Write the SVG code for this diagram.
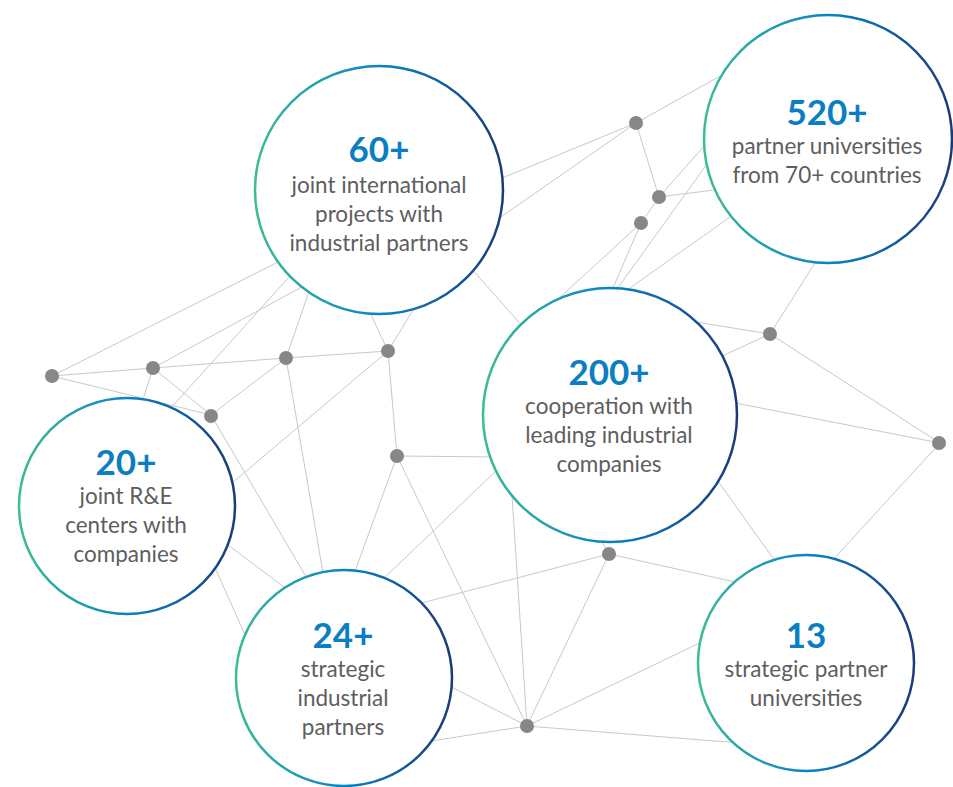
<svg xmlns="http://www.w3.org/2000/svg" width="953" height="787" viewBox="0 0 953 787">
<defs>
<linearGradient id="ring" x1="0" y1="0" x2="1" y2="0">
<stop offset="0" stop-color="#3dbc95"/>
<stop offset="0.5" stop-color="#0784c6"/>
<stop offset="1" stop-color="#1c3a78"/>
</linearGradient>
<style>
.ln{stroke:#c8c8c8;stroke-width:1;fill:none}
.dot{fill:#878787}
.ring{fill:#fff;stroke:url(#ring);stroke-width:2.5}
.num{font-family:Lato,"Open Sans","Liberation Sans",sans-serif;font-weight:700;font-size:35px;fill:#0b7ec3;text-anchor:middle}
.txt{font-family:Lato,"Open Sans","Liberation Sans",sans-serif;font-size:22.5px;fill:#5e5e5e;text-anchor:middle}
</style>
</defs>
<rect width="953" height="787" fill="#fff"/>
<g id="connectors">
<line class="ln" x1="52" y1="376" x2="300" y2="251"/>
<line class="ln" x1="52" y1="376" x2="153" y2="368"/>
<line class="ln" x1="52" y1="376" x2="211" y2="415"/>
<line class="ln" x1="153" y1="368" x2="320" y2="277"/>
<line class="ln" x1="153" y1="368" x2="286" y2="358"/>
<line class="ln" x1="153" y1="368" x2="211" y2="415"/>
<line class="ln" x1="153" y1="368" x2="138" y2="415"/>
<line class="ln" x1="160" y1="420" x2="300" y2="265"/>
<line class="ln" x1="211" y1="415" x2="286" y2="358"/>
<line class="ln" x1="211" y1="415" x2="315" y2="592"/>
<line class="ln" x1="286" y1="358" x2="313" y2="280"/>
<line class="ln" x1="286" y1="358" x2="388" y2="351"/>
<line class="ln" x1="286" y1="358" x2="326" y2="590"/>
<line class="ln" x1="388" y1="351" x2="365" y2="302"/>
<line class="ln" x1="388" y1="351" x2="416" y2="305"/>
<line class="ln" x1="388" y1="351" x2="225" y2="489"/>
<line class="ln" x1="388" y1="351" x2="397" y2="456"/>
<line class="ln" x1="397" y1="456" x2="500" y2="457"/>
<line class="ln" x1="397" y1="456" x2="350" y2="585"/>
<line class="ln" x1="397" y1="456" x2="527" y2="726"/>
<line class="ln" x1="500" y1="467" x2="380" y2="582"/>
<line class="ln" x1="220" y1="539" x2="292" y2="593"/>
<line class="ln" x1="213" y1="563" x2="245" y2="635"/>
<line class="ln" x1="609" y1="554" x2="410" y2="606"/>
<line class="ln" x1="609" y1="554" x2="527" y2="726"/>
<line class="ln" x1="609" y1="554" x2="740" y2="583"/>
<line class="ln" x1="609" y1="554" x2="598" y2="535"/>
<line class="ln" x1="527" y1="726" x2="440" y2="681"/>
<line class="ln" x1="527" y1="726" x2="425" y2="742"/>
<line class="ln" x1="527" y1="726" x2="511" y2="480"/>
<line class="ln" x1="527" y1="726" x2="712" y2="637"/>
<line class="ln" x1="527" y1="726" x2="740" y2="743"/>
<line class="ln" x1="710" y1="470" x2="780" y2="568"/>
<line class="ln" x1="940" y1="443" x2="830" y2="563"/>
<line class="ln" x1="940" y1="443" x2="730" y2="402"/>
<line class="ln" x1="940" y1="443" x2="770" y2="334"/>
<line class="ln" x1="770" y1="334" x2="820" y2="255"/>
<line class="ln" x1="770" y1="334" x2="690" y2="321"/>
<line class="ln" x1="770" y1="334" x2="720" y2="357"/>
<line class="ln" x1="470" y1="267" x2="525" y2="329"/>
<line class="ln" x1="636" y1="123" x2="495" y2="181"/>
<line class="ln" x1="636" y1="123" x2="495" y2="221"/>
<line class="ln" x1="636" y1="123" x2="722" y2="75"/>
<line class="ln" x1="636" y1="123" x2="659" y2="197"/>
<line class="ln" x1="659" y1="197" x2="722" y2="189"/>
<line class="ln" x1="659" y1="197" x2="712" y2="137"/>
<line class="ln" x1="659" y1="197" x2="641" y2="223"/>
<line class="ln" x1="641" y1="223" x2="555" y2="302"/>
<line class="ln" x1="641" y1="223" x2="610" y2="295"/>
<line class="ln" x1="712" y1="157" x2="612" y2="296"/>
<line class="ln" x1="740" y1="210" x2="620" y2="295"/>
</g>
<g id="dots">
<g id="dot1"><circle class="dot" cx="52" cy="376" r="7"/></g>
<g id="dot2"><circle class="dot" cx="153" cy="368" r="7"/></g>
<g id="dot3"><circle class="dot" cx="286" cy="358" r="7"/></g>
<g id="dot4"><circle class="dot" cx="388" cy="351" r="7"/></g>
<g id="dot5"><circle class="dot" cx="211" cy="416" r="7"/></g>
<g id="dot6"><circle class="dot" cx="397" cy="456" r="7"/></g>
<g id="dot7"><circle class="dot" cx="636" cy="123" r="7"/></g>
<g id="dot8"><circle class="dot" cx="659" cy="197" r="7"/></g>
<g id="dot9"><circle class="dot" cx="641" cy="223" r="7"/></g>
<g id="dot10"><circle class="dot" cx="770" cy="334" r="7"/></g>
<g id="dot11"><circle class="dot" cx="939" cy="443" r="7"/></g>
<g id="dot12"><circle class="dot" cx="609" cy="554" r="7"/></g>
<g id="dot13"><circle class="dot" cx="527" cy="726" r="7"/></g>
</g>
<g id="node-60">
<circle class="ring" cx="379" cy="190" r="124"/>
<text class="num" x="379" y="162">60+</text>
<text class="txt" x="379" y="193">joint international</text>
<text class="txt" x="379" y="222">projects with</text>
<text class="txt" x="379" y="251">industrial partners</text>
</g>
<g id="node-520">
<circle class="ring" cx="828" cy="139" r="124"/>
<text class="num" x="827" y="125">520+</text>
<text class="txt" x="827" y="154">partner universities</text>
<text class="txt" x="827" y="183">from 70+ countries</text>
</g>
<g id="node-200">
<circle class="ring" cx="610" cy="415" r="127"/>
<text class="num" x="609" y="385">200+</text>
<text class="txt" x="609" y="414">cooperation with</text>
<text class="txt" x="609" y="443">leading industrial</text>
<text class="txt" x="609" y="472">companies</text>
</g>
<g id="node-20">
<circle class="ring" cx="127" cy="506" r="108"/>
<text class="num" x="126" y="475">20+</text>
<text class="txt" x="126" y="504">joint R&amp;E</text>
<text class="txt" x="126" y="533">centers with</text>
<text class="txt" x="126" y="562">companies</text>
</g>
<g id="node-24">
<circle class="ring" cx="344" cy="678" r="108"/>
<text class="num" x="343" y="648">24+</text>
<text class="txt" x="343" y="677">strategic</text>
<text class="txt" x="343" y="706">industrial</text>
<text class="txt" x="343" y="735">partners</text>
</g>
<g id="node-13">
<circle class="ring" cx="806" cy="663" r="108"/>
<text class="num" x="806" y="648">13</text>
<text class="txt" x="806" y="677">strategic partner</text>
<text class="txt" x="806" y="706">universities</text>
</g>
</svg>
